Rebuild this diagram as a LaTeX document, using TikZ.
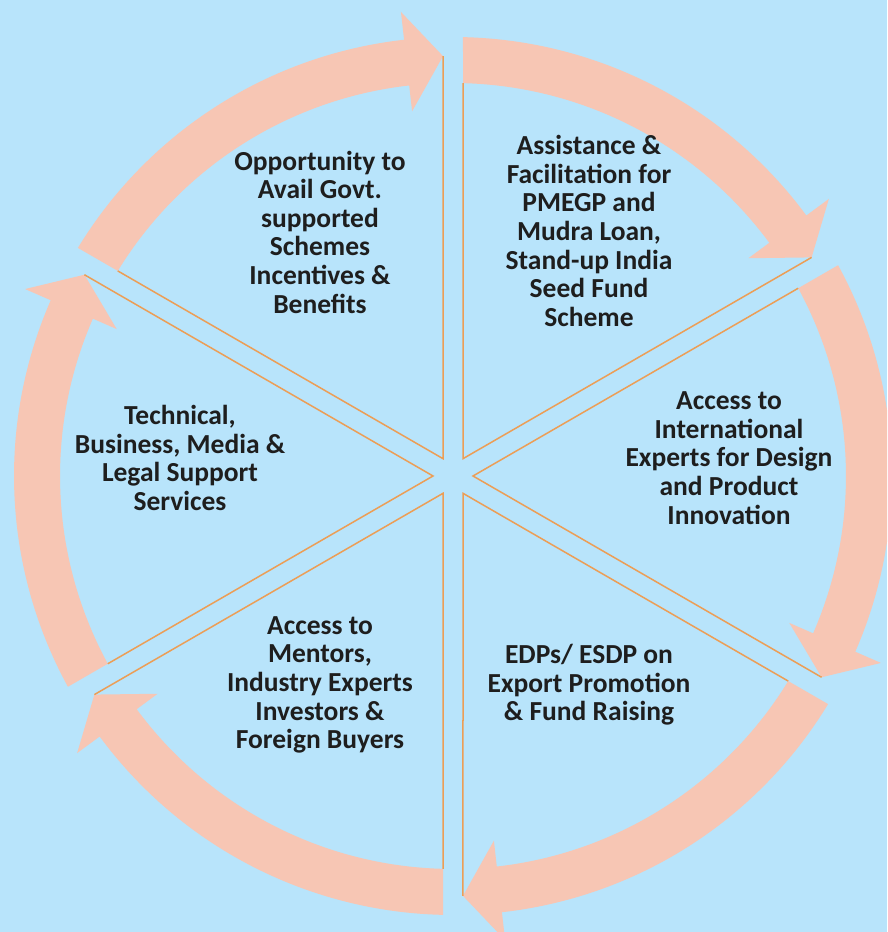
\documentclass[tikz,border=0pt]{standalone}
\usepackage{fontspec}
\setmainfont{Carlito}
\usetikzlibrary{calc}
\definecolor{bgblue}{RGB}{184,228,251}
\definecolor{arrowfill}{RGB}{247,198,180}
\definecolor{spokecol}{RGB}{236,158,86}
\definecolor{txt}{RGB}{30,30,30}
\tikzset{
  ringarrow/.style={fill=arrowfill},
  spokeline/.style={draw=spokecol, line width=1.5pt, line join=miter},
  label/.style={align=center, text=txt, inner sep=0pt, font=\fontsize{27.5}{28.6}\selectfont\bfseries}
}
\begin{document}
\begin{tikzpicture}[x=1pt,y=1pt]
\useasboundingbox (0,0) rectangle (887,932);
\fill[bgblue] (0,0) rectangle (887,932);
\clip (0,0) rectangle (887,932);
\coordinate (C) at (453,456);
\foreach \sA in {150,90,30,-30,-90,-150}{
  \pgfmathsetmacro\angE{\sA-60}
  \pgfmathsetmacro\angO{\sA-1.305}
  \pgfmathsetmacro\angI{\sA-1.458}
  \pgfmathsetmacro\angB{\angE+6.4}
  \pgfmathsetmacro\angT{\angE+1.364}
  \pgfmathsetmacro\angM{\sA-30}
  \fill[ringarrow] ($(C)+(\angO:439pt)$) arc[start angle=\angO, end angle=\angB, radius=439pt]
     -- ($(C)+(\angB:467pt)$) -- ($(C)+(\angT:420pt)$) -- ($(C)+(\angB:367pt)$)
     -- ($(C)+(\angB:393pt)$) arc[start angle=\angB, end angle=\angI, radius=393pt] -- cycle;
  \draw[spokeline] ($(C)+(\angI:393pt)$) -- ($(C)+(\angM:20pt)$) -- ($(C)+(\angT:420pt)$);
}
\node[label] (tl) at (320,700) {Opportunity to\\Avail Govt.\\supported\\Schemes\\Incentives \&\\Benefits};
\node[label] (tr) at (589,701) {Assistance \&\\Facilitation for\\PMEGP and\\Mudra Loan,\\Stand-up India\\Seed Fund\\Scheme};
\node[label] (r) at (729,474) {Access to\\International\\Experts for Design\\and Product\\Innovation};
\node[label] (l) at (180,474) {Technical,\\Business, Media \&\\Legal Support\\Services};
\node[label] (bl) at (320,247) {Access to\\Mentors,\\Industry Experts\\Investors \&\\Foreign Buyers};
\node[label] (br) at (589,247) {EDPs/ ESDP on\\Export Promotion\\\& Fund Raising};
\end{tikzpicture}
\end{document}
